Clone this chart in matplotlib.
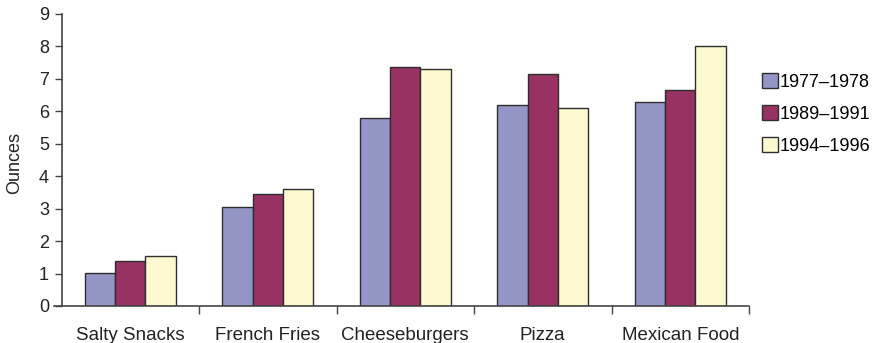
import matplotlib
matplotlib.use("Agg")
import matplotlib.pyplot as plt
import numpy as np

categories = ["Salty Snacks", "French Fries", "Cheeseburgers", "Pizza", "Mexican Food"]
series_labels = ["1977\u20131978", "1989\u20131991", "1994\u20131996"]
v_1977 = [1.01, 3.05, 5.80, 6.20, 6.29]
v_1989 = [1.39, 3.45, 7.38, 7.14, 6.67]
v_1994 = [1.55, 3.60, 7.30, 6.11, 8.01]
y_ticks = list(range(0, 10))

colors = ["#9495c7", "#973263", "#fcf8cf"]
edge = "#2e2e2e"

plt.rcParams['font.family'] = ['Liberation Sans', 'DejaVu Sans']

fig = plt.figure(figsize=(8.75, 3.43), dpi=100)
ax = fig.add_axes([54/875, 1-306/343, (749-54)/875, (306-14)/343])

x = np.arange(len(categories)) + 0.5
w = 0.22
for i, (vals, c, lab) in enumerate(zip([v_1977, v_1989, v_1994], colors, series_labels)):
    ax.bar(x + (i-1)*w, vals, width=w, color=c, edgecolor=edge, linewidth=1.0, label=lab)

ax.set_xlim(-0.055, 5)
ax.set_ylim(0, 9)
ax.spines['top'].set_visible(False)
ax.spines['right'].set_visible(False)
ax.spines['left'].set_position(('data', 0))
for s in ['left', 'bottom']:
    ax.spines[s].set_color('#444444')
    ax.spines[s].set_linewidth(1.2)

ax.set_yticks(y_ticks)
ax.tick_params(axis='y', direction='out', length=5, width=1.0, color='#444444',
               labelsize=13, pad=4, labelcolor='#222222')
ax.set_xticks(np.arange(1, 6))
ax.set_xticklabels([])
ax.set_xticks(x, minor=True)
ax.set_xticklabels(categories, minor=True)
ax.tick_params(axis='x', which='major', direction='out', length=6, width=1.0, color='#444444')
ax.tick_params(axis='x', which='minor', length=0, labelsize=13.5, pad=15, labelcolor='#222222')

fig.text(15/875, 1-163/343, "Ounces", rotation=90, ha='center', va='center',
         fontsize=13, color='#222222')

handles, labels = ax.get_legend_handles_labels()
leg = fig.legend(handles, labels, loc='center left', bbox_to_anchor=(755/875, 1-114/343),
                 frameon=False, fontsize=13, handlelength=0.85, handleheight=0.85,
                 handletextpad=0.1, labelspacing=0.8, borderaxespad=0)

fig.savefig("out.png", dpi=100)
